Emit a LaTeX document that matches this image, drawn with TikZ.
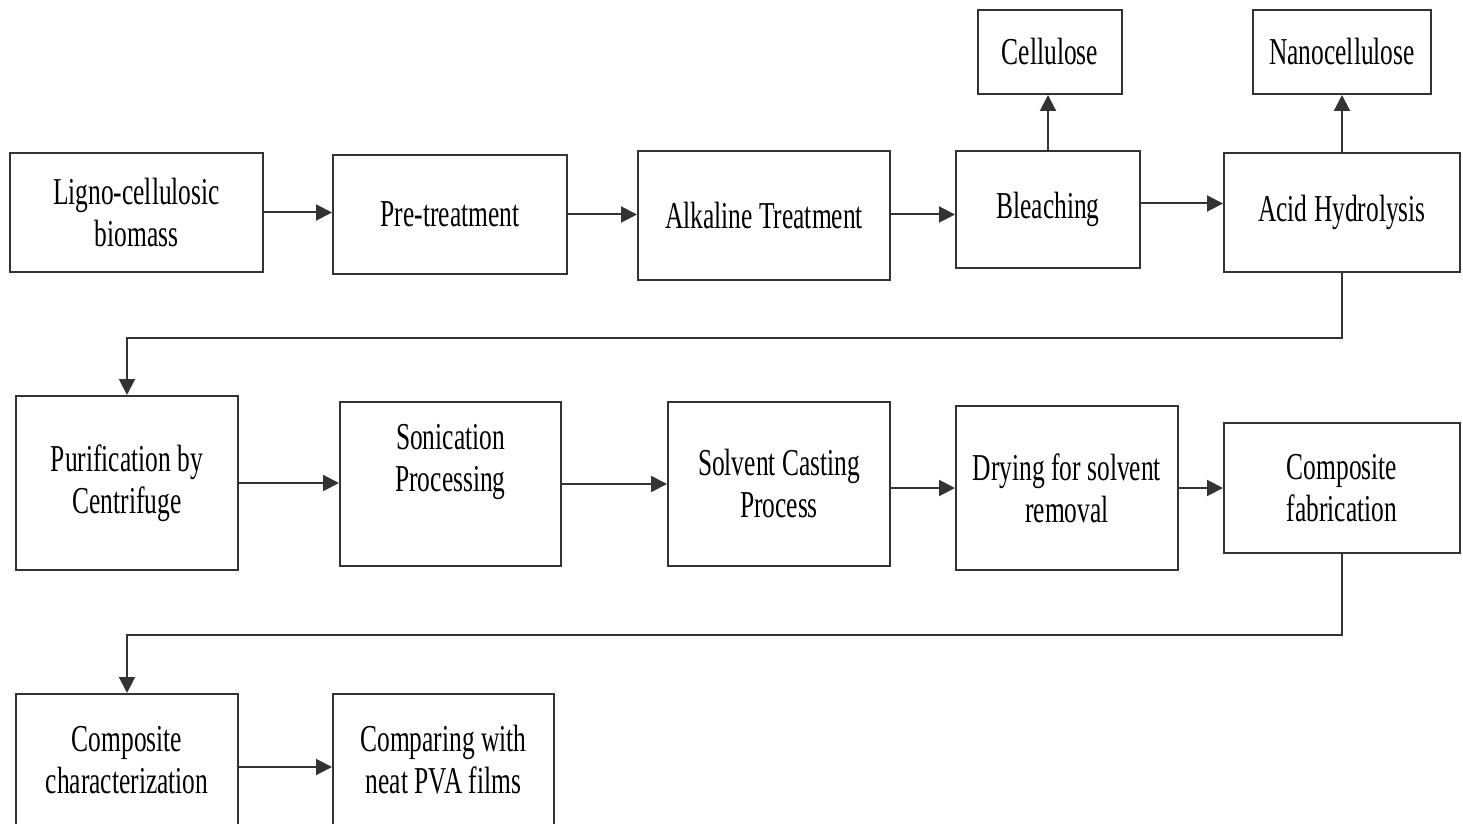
\documentclass[tikz,border=0pt]{standalone}
\usepackage{fontspec}
\setmainfont{Liberation Serif}[FakeStretch=0.67]
\usetikzlibrary{arrows.meta}
\tikzset{
   block/.style ={
      rectangle, draw=black!80, line width=1pt, align=center,
      font=\fontsize{19pt}{21pt}\selectfont,
   },
   line/.style ={
      -, line width=1pt, color=black!80,
   },
   arrow/.style ={
      -{Triangle[length=8pt,width=8pt]}, line width=1pt, color=black!80,
   },
}

\begin{document}
\begin{tikzpicture}[x=0.5pt,y=-0.5pt]

      \useasboundingbox (0,0) rectangle (1463,824);

      % first row
      \node[block, minimum width=126.5pt, minimum height=59.5pt] (ligno)  at (136.5,212.5) {Ligno-cellulosic\\biomass};
      \node[block, minimum width=117pt,   minimum height=59.5pt] (pre)    at (450,214.5)   {Pre-treatment};
      \node[block, minimum width=126pt,   minimum height=64.5pt] (alk)    at (764,215.5)   {Alkaline Treatment};
      \node[block, minimum width=92pt,    minimum height=58.5pt] (bleach) at (1048,209.5)  {Bleaching};
      \node[block, minimum width=118pt,   minimum height=59.5pt] (acid)   at (1342,212.5)  {Acid Hydrolysis};
      \node[block, minimum width=72pt,    minimum height=42pt]   (cell)   at (1050,52)     {Cellulose};
      \node[block, minimum width=89pt,    minimum height=42pt]   (nano)   at (1342,52)     {Nanocellulose};

      % second row
      \node[block, minimum width=111pt,   minimum height=87pt]   (puri)   at (127,483)     {Purification by\\Centrifuge};
      \node[block, minimum width=110.5pt, minimum height=82pt]   (soni)   at (450.5,484)   {};
      \node[block, draw=none]                                    (sonitext) at ([yshift=11pt]soni.center) {Sonication\\Processing};
      \node[block, minimum width=111pt,   minimum height=82pt]   (solv)   at (779,484)     {Solvent Casting\\Process};
      \node[block, minimum width=111pt,   minimum height=82pt]   (dry)    at (1067,488)    {Drying for solvent\\removal};
      \node[block, minimum width=118pt,   minimum height=65pt]   (fab)    at (1342,488)    {Composite\\fabrication};

      % third row
      \node[block, minimum width=111pt,   minimum height=66pt]   (charac) at (127,760)     {Composite\\characterization};
      \node[block, minimum width=110.5pt, minimum height=66pt]   (comp)   at (443.5,760)   {Comparing with\\neat PVA films};

      \draw[arrow] (ligno.east)  -- (ligno.east -| pre.west);
      \draw[arrow] (pre.east)    -- (pre.east -| alk.west);
      \draw[arrow] (pre.east -| alk.east) -- (pre.east -| bleach.west);
      \draw[arrow] ([yshift=3pt]bleach.east) -- ([yshift=3pt]bleach.east -| acid.west);
      \draw[arrow] (bleach.north) -- (bleach.north |- cell.south);
      \draw[arrow] (acid.north)  -- (nano.south);
      \draw[arrow] (acid.south)  -- ++(0,65) -| (puri.north);

      \draw[arrow] (puri.east)   -- (puri.east -| soni.west);
      \draw[arrow] (soni.east)   -- (soni.east -| solv.west);
      \draw[arrow] (dry.west -| solv.east) -- (dry.west);
      \draw[arrow] (dry.east)    -- (dry.east -| fab.west);
      \draw[arrow] (fab.south)   -- ++(0,81) -| (charac.north);

      \draw[arrow] ([yshift=-3.5pt]charac.east) -- ([yshift=-3.5pt]charac.east -| comp.west);

   \end{tikzpicture}
\end{document}
